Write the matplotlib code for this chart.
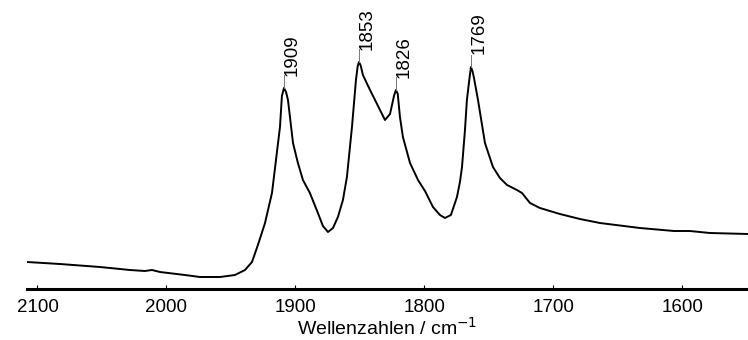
import matplotlib
matplotlib.use('Agg')
import matplotlib.pyplot as plt

plt.rcParams['font.family'] = ['Liberation Sans', 'DejaVu Sans']

# IR spectrum (wavenumber / cm-1, absorbance a.u.)
wavenumbers = [2108.1, 2082.6, 2051.6, 2028.3, 2016.7, 2011.2, 2005.0, 1985.7, 1974.0,
               1958.5, 1946.9, 1939.1, 1933.7, 1929.1, 1923.6, 1918.2, 1912.0, 1910.5,
               1908.9, 1907.3, 1905.8, 1901.9, 1898.1, 1894.2, 1888.8, 1882.6, 1878.7,
               1874.8, 1870.9, 1867.1, 1863.2, 1860.1, 1856.2, 1853.1, 1851.8, 1850.8,
               1849.5, 1847.7, 1842.2, 1836.0, 1830.6, 1826.7, 1823.5, 1822.1, 1820.7,
               1819.0, 1816.7, 1811.2, 1805.0, 1799.6, 1793.4, 1788.0, 1784.1, 1779.5,
               1774.8, 1772.5, 1770.9, 1768.6, 1767.1, 1765.4, 1764.0, 1762.7, 1761.6,
               1758.5, 1753.1, 1746.9, 1741.5, 1736.0, 1728.3, 1724.4, 1718.2, 1710.5,
               1695.0, 1679.5, 1664.0, 1633.0, 1606.6, 1594.2, 1578.7, 1549.2]
absorbance = [0.108, 0.100, 0.088, 0.076, 0.072, 0.076, 0.068, 0.056, 0.048,
              0.048, 0.056, 0.076, 0.108, 0.176, 0.264, 0.384, 0.648, 0.772,
              0.804, 0.788, 0.756, 0.584, 0.504, 0.436, 0.384, 0.304, 0.252,
              0.228, 0.244, 0.288, 0.356, 0.448, 0.648, 0.836, 0.890, 0.908,
              0.895, 0.856, 0.796, 0.732, 0.676, 0.700, 0.775, 0.796, 0.780,
              0.688, 0.608, 0.504, 0.436, 0.392, 0.328, 0.296, 0.284, 0.296,
              0.368, 0.428, 0.488, 0.636, 0.756, 0.830, 0.888, 0.870, 0.844,
              0.756, 0.584, 0.488, 0.444, 0.416, 0.396, 0.384, 0.344, 0.324,
              0.300, 0.280, 0.264, 0.244, 0.232, 0.232, 0.224, 0.220]

peak_labels = ['1909', '1853', '1826', '1769']
peak_positions = [1908.9, 1850.8, 1822.1, 1764.0]
peak_heights = [0.804, 0.908, 0.796, 0.888]

fig = plt.figure(figsize=(7.48, 3.4), dpi=100)
ax = fig.add_axes([0.0361, 0.15, 0.9639, 0.85])

ax.plot(wavenumbers, absorbance, color='black', linewidth=1.4)

for label, pos, height in zip(peak_labels, peak_positions, peak_heights):
    ax.plot([pos, pos], [height, height + 0.05], color='#777777', linewidth=0.7)
    ax.text(pos + 0.6, height + 0.05, label, rotation=90, ha='left', va='top',
            fontsize=13.5, rotation_mode='anchor', clip_on=False)

ax.set_xlim(2108.1, 1549.2)
ax.set_ylim(0, 1.156)
ax.set_xticks([2100, 2000, 1900, 1800, 1700, 1600])

for side in ['left', 'right', 'top']:
    ax.spines[side].set_visible(False)
ax.spines['bottom'].set_linewidth(2.2)
ax.set_yticks([])
ax.tick_params(axis='x', direction='in', length=3, width=0.8, labelsize=13.5, pad=7)
ax.set_xlabel('Wellenzahlen / cm$^{-1}$', fontsize=14, labelpad=1)

fig.savefig('out.png', dpi=100)
